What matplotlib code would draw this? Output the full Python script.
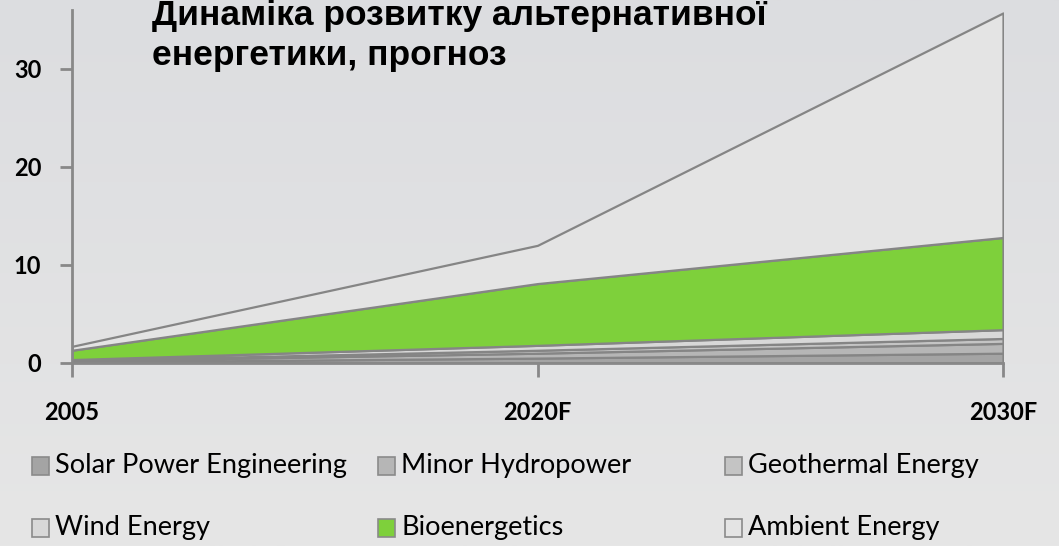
import matplotlib.pyplot as plt
import numpy as np

years = ["2005", "2020F", "2030F"]
series = ["Solar Power Engineering", "Minor Hydropower", "Geothermal Energy",
          "Wind Energy", "Bioenergetics", "Ambient Energy"]
solar = [0.1, 0.5, 1.0]
hydro = [0.1, 0.5, 1.0]
geo = [0.05, 0.3, 0.5]
wind = [0.1, 0.5, 0.9]
bio = [0.95, 6.3, 9.4]
ambient = [0.4, 3.9, 22.9]
colors = ["#a4a4a4", "#b6b6b6", "#c4c4c4", "#d8d8d8", "#7ed03b", "#e4e4e4"]

fig = plt.figure(figsize=(10.59, 5.46), dpi=100)
fig.patch.set_facecolor("#e0e1e2")

# soft vertical gradient behind everything
bg = fig.add_axes([0, 0, 1, 1], zorder=-10)
grad = np.linspace(0, 1, 256).reshape(-1, 1)
bg.imshow(grad, aspect="auto", cmap=plt.matplotlib.colors.LinearSegmentedColormap.from_list(
    "bg", ["#dcdde0", "#e6e6e6"]), extent=[0, 1, 0, 1], origin="upper")
bg.axis("off")

ax = fig.add_axes([72/1059, 1-363/546, (1003-72)/1059, 353/546])
ax.set_facecolor("none")

x = np.arange(len(years))
ax.stackplot(x, solar, hydro, geo, wind, bio, ambient, colors=colors,
             edgecolor="#858585", linewidth=1.6)

ax.set_xlim(0, 2)
ax.set_ylim(0, 36)
ax.set_yticks([0, 10, 20, 30])
ax.set_xticks(x)
ax.set_xticklabels(years)
for s in ["top", "right"]:
    ax.spines[s].set_visible(False)
for s in ["left", "bottom"]:
    ax.spines[s].set_color("#888888")
    ax.spines[s].set_linewidth(2)
ax.tick_params(axis="y", length=9, width=2, color="#888888", pad=13, labelsize=17)
ax.tick_params(axis="x", length=10, width=2, color="#888888", pad=17, labelsize=17)
for lab in ax.get_xticklabels() + ax.get_yticklabels():
    lab.set_family("Lato")
    lab.set_fontweight("bold")

fig.text(152/1059, 1-25/546, "Динаміка розвитку альтернативної", fontsize=25.5,
         fontweight="bold", family="Liberation Sans", va="baseline")
fig.text(152/1059, 1-65/546, "енергетики, прогноз", fontsize=25.5,
         fontweight="bold", family="Liberation Sans", va="baseline")

# legend laid out by hand, 3 columns x 2 rows
col_x = [32, 378, 725]
row_y = [466, 528]
for k in range(len(series)):
    px = col_x[k % 3]
    py = row_y[k // 3]
    fig.patches.append(plt.Rectangle((px/1059, 1-(py+9)/546), 17/1059, 18/546,
                                     facecolor=colors[k], edgecolor="#8a8a8a",
                                     linewidth=1.2, transform=fig.transFigure))
    fig.text((px+23)/1059, 1-py/546, series[k], fontsize=19.5, va="center",
             family="Lato")

fig.savefig("out.png", dpi=100, facecolor=fig.get_facecolor())
